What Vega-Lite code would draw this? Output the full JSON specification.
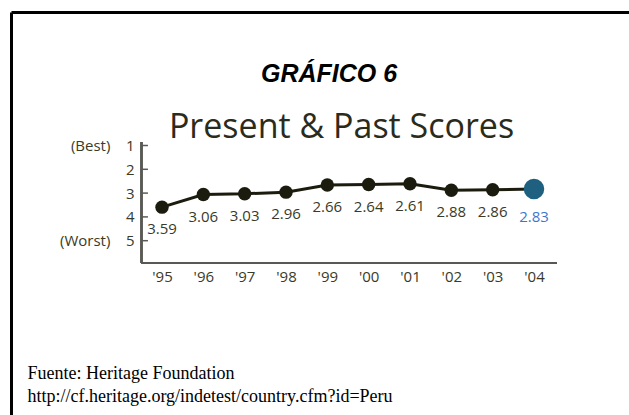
{
  "$schema": "https://vega.github.io/schema/vega-lite/v6.json",
  "width": 618,
  "height": 403,
  "autosize": "none",
  "padding": {"left": 11, "top": 12, "right": 0, "bottom": 0},
  "background": "white",
  "config": {"view": {"stroke": null}, "font": "Open Sans"},
  "title": {
    "text": "GRÁFICO 6",
    "font": "Liberation Sans",
    "fontSize": 25,
    "fontWeight": "bold",
    "fontStyle": "italic",
    "color": "black",
    "anchor": "middle",
    "frame": "group",
    "orient": "top",
    "offset": 0,
    "dx": 9,
    "dy": 95,
    "baseline": "alphabetic"
  },
  "data": {
    "values": [
      {"year": 1995, "score": 3.59, "tipo": "pasado"},
      {"year": 1996, "score": 3.06, "tipo": "pasado"},
      {"year": 1997, "score": 3.03, "tipo": "pasado"},
      {"year": 1998, "score": 2.96, "tipo": "pasado"},
      {"year": 1999, "score": 2.66, "tipo": "pasado"},
      {"year": 2000, "score": 2.64, "tipo": "pasado"},
      {"year": 2001, "score": 2.61, "tipo": "pasado"},
      {"year": 2002, "score": 2.88, "tipo": "pasado"},
      {"year": 2003, "score": 2.86, "tipo": "pasado"},
      {"year": 2004, "score": 2.83, "tipo": "actual"}
    ]
  },
  "layer": [
    {
      "mark": {"type": "line", "color": "#1c1c0e", "strokeWidth": 3},
      "encoding": {
        "x": {
          "field": "year",
          "type": "quantitative",
          "scale": {"domain": [1991.3468, 2006.2984], "nice": false, "zero": false},
          "axis": {
            "orient": "top",
            "values": [1995, 1996, 1997, 1998, 1999, 2000, 2001, 2002, 2003, 2004],
            "labelExpr": "\"'\" + substring(format(datum.value, 'd'), 2)",
            "domain": true,
            "domainColor": "black",
            "domainWidth": 3,
            "ticks": false,
            "tickSize": 0,
            "grid": false,
            "labelPadding": -264,
            "labelBaseline": "middle",
            "labelAlign": "center",
            "labelFont": "Open Sans",
            "labelFontSize": 15,
            "labelColor": "#3a3a28",
            "labelFlush": false,
            "labelOverlap": false,
            "title": ["Fuente: Heritage Foundation", "http://cf.heritage.org/indetest/country.cfm?id=Peru"],
            "titleX": 16,
            "titleY": 366,
            "titleAlign": "left",
            "titleAnchor": "start",
            "titleBaseline": "alphabetic",
            "titleFont": "Liberation Serif",
            "titleFontSize": 18,
            "titleFontWeight": "normal",
            "titleColor": "black",
            "titleLineHeight": 23
          }
        },
        "y": {
          "field": "score",
          "type": "quantitative",
          "scale": {"domain": [-4.6092, 12.3235], "nice": false, "zero": false, "reverse": true},
          "axis": {
            "orient": "left",
            "values": [1, 2, 3, 4, 5],
            "labelExpr": "datum.value == 1 ? '(Best)\u00a0\u00a0\u00a0\u00a01' : datum.value == 5 ? '(Worst)\u00a0\u00a0\u00a0\u00a05' : datum.label",
            "domain": true,
            "domainColor": "black",
            "domainWidth": 3,
            "ticks": false,
            "tickSize": 0,
            "grid": false,
            "labelPadding": -123,
            "labelAlign": "right",
            "labelBaseline": "middle",
            "labelFont": "Open Sans",
            "labelFontSize": 15,
            "labelColor": "#3a3a28",
            "labelFlush": false,
            "labelOverlap": false,
            "title": "Present & Past Scores",
            "titleAngle": 0,
            "titleX": 330,
            "titleY": 125,
            "titleAlign": "center",
            "titleBaseline": "alphabetic",
            "titleFont": "Open Sans",
            "titleFontSize": 34,
            "titleFontWeight": "normal",
            "titleColor": "#2b2b1b"
          }
        }
      }
    },
    {
      "mark": {"type": "rule", "color": "#5a5a55", "strokeWidth": 1.5},
      "encoding": {
        "x": {"datum": 1994.504, "type": "quantitative"},
        "y": {"datum": 0.853, "type": "quantitative"},
        "y2": {"datum": 5.937}
      }
    },
    {
      "mark": {"type": "rule", "color": "#5a5a55", "strokeWidth": 1.5},
      "encoding": {
        "x": {"datum": 1994.504, "type": "quantitative"},
        "x2": {"datum": 2004.5565},
        "y": {"datum": 5.937, "type": "quantitative"}
      }
    },
    {
      "data": {"values": [{"tick": 1}, {"tick": 2}, {"tick": 3}, {"tick": 4}, {"tick": 5}]},
      "mark": {"type": "rule", "color": "#5a5a55", "strokeWidth": 1.5},
      "encoding": {
        "x": {"datum": 1994.504, "type": "quantitative"},
        "x2": {"datum": 1994.66},
        "y": {"field": "tick", "type": "quantitative"}
      }
    },
    {
      "mark": {"type": "circle", "opacity": 1},
      "encoding": {
        "x": {"field": "year", "type": "quantitative"},
        "y": {"field": "score", "type": "quantitative"},
        "color": {"condition": {"test": "datum.tipo === 'actual'", "value": "#1f5f80"}, "value": "#1c1c0e"},
        "size": {"condition": {"test": "datum.tipo === 'actual'", "value": 420}, "value": 180}
      }
    },
    {
      "transform": [{"filter": "datum.tipo === 'pasado'"}],
      "mark": {"type": "text", "dy": 22, "baseline": "middle", "align": "center", "font": "Open Sans", "fontSize": 15, "color": "#3a3a28"},
      "encoding": {
        "x": {"field": "year", "type": "quantitative"},
        "y": {"field": "score", "type": "quantitative"},
        "text": {"field": "score", "type": "quantitative", "format": ".2f"}
      }
    },
    {
      "transform": [{"filter": "datum.tipo === 'actual'"}],
      "mark": {"type": "text", "dy": 28, "baseline": "middle", "align": "center", "font": "Open Sans", "fontSize": 15, "color": "#3a78d0"},
      "encoding": {
        "x": {"field": "year", "type": "quantitative"},
        "y": {"field": "score", "type": "quantitative"},
        "text": {"field": "score", "type": "quantitative", "format": ".2f"}
      }
    }
  ]
}
